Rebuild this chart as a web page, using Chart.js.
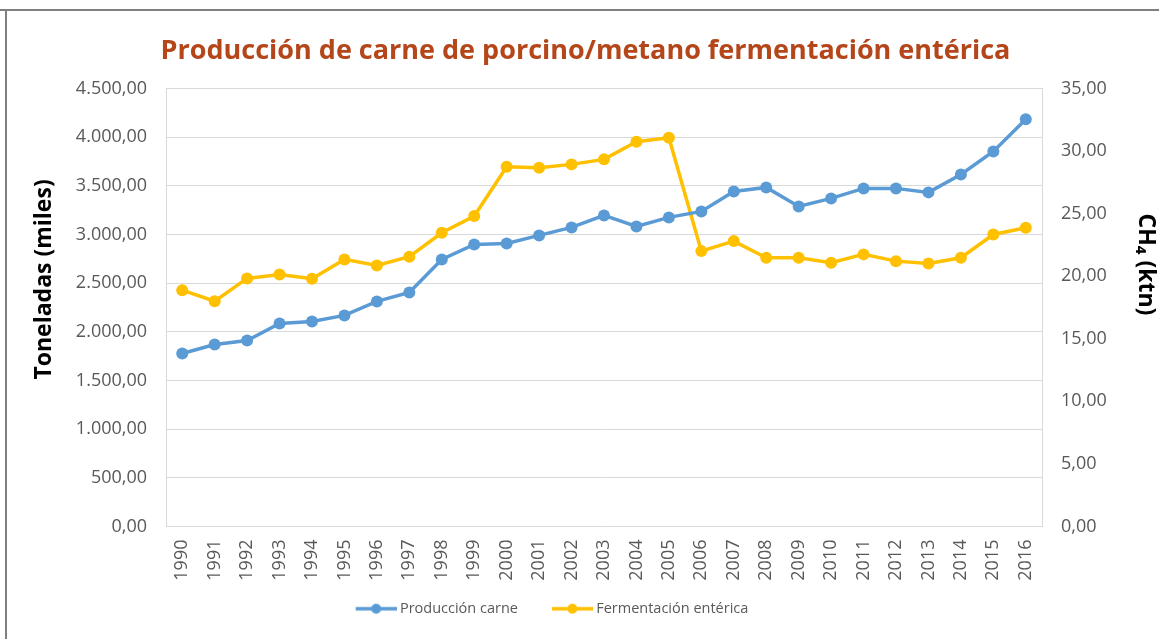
<!DOCTYPE html>
<html>
<head>
<meta charset="utf-8">
<script src="https://cdn.jsdelivr.net/npm/chart.js@4.4.1/dist/chart.umd.min.js"></script>
<style>
  html, body { margin: 0; padding: 0; background: #fff; }
  #wrap { width: 1159px; height: 639px; position: relative; }
</style>
</head>
<body>
<div id="wrap"><canvas id="c" width="1159" height="639"></canvas></div>
<script>
const years = ['1990','1991','1992','1993','1994','1995','1996','1997','1998','1999','2000','2001','2002','2003','2004','2005','2006','2007','2008','2009','2010','2011','2012','2013','2014','2015','2016'];
const produccionCarne = [1777,1870,1911,2086,2106,2168,2312,2404,2743,2897,2908,2990,3072,3195,3082,3175,3236,3442,3483,3288,3370,3473,3473,3432,3616,3853,4182];
const fermentacionEnterica = [18.88,18.00,19.82,20.14,19.79,21.34,20.86,21.55,23.47,24.80,28.74,28.66,28.93,29.33,30.74,31.06,22.00,22.80,21.47,21.47,21.07,21.74,21.20,21.02,21.47,23.33,23.87];
const titleText = 'Producción de carne de porcino/metano fermentación entérica';
const leftTitle = 'Toneladas (miles)';
const rightTitle = 'CH₄ (ktn)';
const seriesNames = ['Producción carne', 'Fermentación entérica'];

const BLUE = '#5B9BD5', YELLOW = '#FFC000', GRID = '#D9D9D9', TICK = '#595959';
const FONT = "'Open Sans', 'Liberation Sans', sans-serif";

function fmt(v) {
  const p = Number(v).toFixed(2).split('.');
  p[0] = p[0].replace(/\B(?=(\d{3})+(?!\d))/g, '.');
  return p[0] + ',' + p[1];
}

function legendIcon(color) {
  const c = document.createElement('canvas');
  c.width = 64; c.height = 12;
  const g = c.getContext('2d');
  g.strokeStyle = color; g.lineWidth = 3.5; g.lineCap = 'butt';
  g.beginPath(); g.moveTo(23, 6); g.lineTo(64, 6); g.stroke();
  g.fillStyle = color;
  g.beginPath(); g.arc(43.5, 6, 5, 0, Math.PI * 2); g.fill();
  return c;
}
const icons = [legendIcon(BLUE), legendIcon(YELLOW)];

// shift an axis title along the axis (vertical offset in px)
function shiftTitle(dy) {
  return function (s) {
    if (!s._titleShifted) {
      const orig = s.drawTitle.bind(s);
      s.drawTitle = function () {
        const ctx = s.ctx;
        ctx.save(); ctx.translate(0, dy); orig(); ctx.restore();
      };
      s._titleShifted = true;
    }
  };
}

const framePlugin = {
  id: 'frame',
  beforeDraw(chart) {
    const ctx = chart.ctx;
    ctx.save();
    ctx.fillStyle = '#fff';
    ctx.fillRect(0, 0, chart.width, chart.height);
    ctx.strokeStyle = '#7F7F7F';
    ctx.lineWidth = 2;
    ctx.beginPath();
    ctx.moveTo(0, 10); ctx.lineTo(chart.width, 10);
    ctx.moveTo(6, 10); ctx.lineTo(6, chart.height);
    ctx.stroke();
    ctx.restore();
  }
};

const boxShift = {
  id: 'boxShift',
  afterLayout(chart) {
    if (chart.legend) { chart.legend.left -= 37; chart.legend.right -= 37; }
    if (chart.titleBlock) { chart.titleBlock.left += 6; chart.titleBlock.right += 6; }
  }
};

new Chart(document.getElementById('c'), {
  type: 'line',
  data: {
    labels: years,
    datasets: [
      { label: seriesNames[0], data: produccionCarne, yAxisID: 'y', borderColor: BLUE, backgroundColor: BLUE,
        borderWidth: 3.5, pointRadius: 6, pointHoverRadius: 6, pointBackgroundColor: BLUE, pointBorderWidth: 0, tension: 0 },
      { label: seriesNames[1], data: fermentacionEnterica, yAxisID: 'y1', borderColor: YELLOW, backgroundColor: YELLOW,
        borderWidth: 3.5, pointRadius: 6, pointHoverRadius: 6, pointBackgroundColor: YELLOW, pointBorderWidth: 0, tension: 0 }
    ]
  },
  options: {
    responsive: false,
    animation: false,
    devicePixelRatio: 1,
    layout: { padding: { left: 0, right: 0, top: 0, bottom: 13 } },
    plugins: {
      title: {
        display: true, text: titleText, color: '#B4461A',
        font: { family: FONT, size: 27, weight: 'bold' },
        padding: { top: 35, bottom: 21 }
      },
      legend: {
        position: 'bottom',
        labels: {
          color: TICK, font: { family: FONT, size: 14.5 },
          usePointStyle: true, pointStyleWidth: 56, boxHeight: 12, padding: 15,
          generateLabels(chart) {
            return chart.data.datasets.map((ds, i) => ({
              text: ds.label, fillStyle: ds.borderColor, strokeStyle: ds.borderColor,
              pointStyle: icons[i], lineWidth: 0, hidden: false, datasetIndex: i, fontColor: TICK
            }));
          }
        }
      },
      tooltip: { enabled: false }
    },
    scales: {
      x: {
        offset: true,
        grid: { display: false, drawTicks: false },
        border: { display: false },
        ticks: { color: TICK, font: { family: FONT, size: 18 }, minRotation: 90, maxRotation: 90, padding: 13, autoSkip: false },
        afterFit(s) { s.height = 60; }
      },
      y: {
        position: 'left', min: 0, max: 4500,
        grid: { color: GRID, lineWidth: 1, drawTicks: false },
        border: { display: true, color: GRID },
        ticks: { stepSize: 500, color: TICK, font: { family: FONT, size: 18 }, padding: 19, callback: v => fmt(v) },
        title: { display: true, text: leftTitle, color: '#000', font: { family: FONT, size: 23, weight: 'bold' }, padding: { top: 31, bottom: 0 } },
        afterFit(s) { s.width = 166; shiftTitle(-28)(s); }
      },
      y1: {
        position: 'right', min: 0, max: 35,
        grid: { display: false, drawTicks: false },
        border: { display: true, color: GRID },
        ticks: { stepSize: 5, color: TICK, font: { family: FONT, size: 18 }, padding: 19, callback: v => fmt(v) },
        title: { display: true, text: rightTitle, color: '#000', font: { family: FONT, size: 23, weight: 'bold' }, padding: { top: 0, bottom: 0 } },
        afterFit(s) { s.width = 117; shiftTitle(-43)(s); }
      }
    }
  },
  plugins: [framePlugin, boxShift]
});
</script>
</body>
</html>
